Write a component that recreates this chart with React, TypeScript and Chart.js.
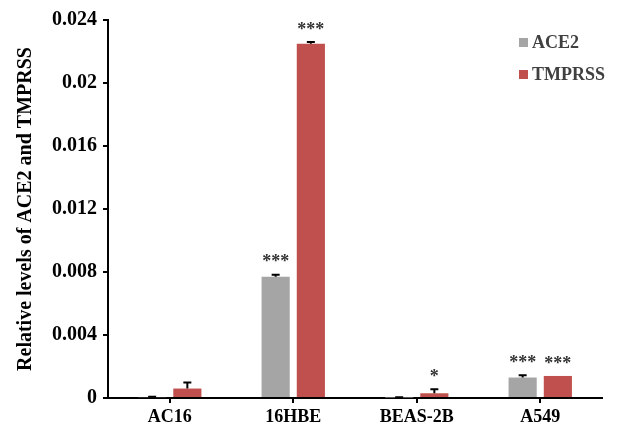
import React, { useEffect, useRef } from "react";
import { Chart, registerables } from "chart.js";

Chart.register(...registerables);

const categories = ["AC16", "16HBE", "BEAS-2B", "A549"];
const ace2Values = [0.00005, 0.0077, 0.00003, 0.0013];
const ace2Errors = [0.00003, 0.00012, 0.00002, 0.00015];
const ace2Stars = ["", "***", "", "***"];
const tmprssValues = [0.0006, 0.0225, 0.0003, 0.0014];
const tmprssErrors = [0.00038, 0.0001, 0.00026, 0];
const tmprssStars = ["", "***", "*", "***"];
const yTicks = [0, 0.004, 0.008, 0.012, 0.016, 0.02, 0.024];

const FONT = "'Liberation Serif', 'Times New Roman', serif";
const GRAY = "#a5a5a5";
const RED = "#c0504d";

const errorPlugin = {
  id: "errorStars",
  afterDatasetsDraw(chart: any) {
    const ctx = chart.ctx;
    const y = chart.scales.y;
    const errs = [ace2Errors, tmprssErrors];
    const stars = [ace2Stars, tmprssStars];
    const vals = [ace2Values, tmprssValues];
    ctx.save();
    chart.data.datasets.forEach((_: any, di: number) => {
      const meta = chart.getDatasetMeta(di);
      meta.data.forEach((bar: any, i: number) => {
        const v = vals[di][i];
        const e = errs[di][i];
        const x = bar.x;
        const yTop = y.getPixelForValue(v);
        const yErr = y.getPixelForValue(v + e);
        if (e > 0) {
          ctx.strokeStyle = "#000";
          ctx.lineWidth = 2;
          ctx.beginPath();
          ctx.moveTo(x, yTop);
          ctx.lineTo(x, yErr);
          ctx.moveTo(x - 4, yErr);
          ctx.lineTo(x + 4, yErr);
          ctx.stroke();
        }
        const s = stars[di][i];
        if (s) {
          ctx.fillStyle = "#333";
          ctx.font = `bold 18px ${FONT}`;
          ctx.textAlign = "center";
          ctx.textBaseline = "middle";
          ctx.fillText(s, x, Math.min(yErr, yTop) - 12);
        }
      });
    });
    // legend
    const items = [
      { label: "ACE2", color: GRAY, y: 43 },
      { label: "TMPRSS", color: RED, y: 75 },
    ];
    ctx.font = `bold 18px ${FONT}`;
    ctx.textAlign = "left";
    ctx.textBaseline = "middle";
    items.forEach((it) => {
      ctx.fillStyle = it.color;
      ctx.fillRect(519, it.y - 5, 9, 9);
      ctx.fillStyle = "#404040";
      ctx.fillText(it.label, 532, it.y);
    });
    ctx.restore();
  },
};

export default function App() {
  const ref = useRef<HTMLCanvasElement>(null);
  useEffect(() => {
    document.body.style.margin = "0";
    const chart = new Chart(ref.current!, {
      type: "bar",
      data: {
        labels: categories,
        datasets: [
          { label: "ACE2", data: ace2Values, backgroundColor: GRAY },
          { label: "TMPRSS", data: tmprssValues, backgroundColor: RED },
        ],
      },
      options: {
        animation: false,
        responsive: true,
        maintainAspectRatio: false,
        layout: { padding: { top: 20, right: 15, left: 0, bottom: 0 } },
        datasets: { bar: { categoryPercentage: 0.57, barPercentage: 0.8 } },
        plugins: { legend: { display: false }, tooltip: { enabled: false } },
        scales: {
          x: {
            offset: true,
            grid: { offset: false, drawOnChartArea: false, drawTicks: true, tickLength: 5, color: "#000", lineWidth: 2 },
            border: { display: true, color: "#000", width: 2 },
            ticks: { color: "#000", font: { family: FONT, size: 18, weight: "bold" }, padding: 4 },
            afterFit: (s: any) => { s.height = 32; },
          },
          y: {
            min: 0,
            max: 0.024,
            afterBuildTicks: (s: any) => { s.ticks = yTicks.map((v) => ({ value: v })); },
            grid: { drawOnChartArea: false, drawTicks: true, tickLength: 5, color: "#000", lineWidth: 2 },
            border: { display: true, color: "#000", width: 2 },
            ticks: {
              color: "#000",
              padding: 6,
              font: { family: FONT, size: 20, weight: "bold" },
              callback: (v: any) => String(Number(v)),
            },
            title: {
              display: true,
              text: "Relative levels of ACE2 and TMPRSS",
              color: "#000",
              font: { family: FONT, size: 20, weight: "bold" },
              padding: { top: 14, bottom: 4 },
            },
            afterFit: (s: any) => { s.width = 108; },
          },
        },
      },
      plugins: [errorPlugin],
    });
    return () => chart.destroy();
  }, []);
  return (
    <div style={{ width: 617, height: 430, position: "relative" }}>
      <canvas ref={ref} />
    </div>
  );
}
